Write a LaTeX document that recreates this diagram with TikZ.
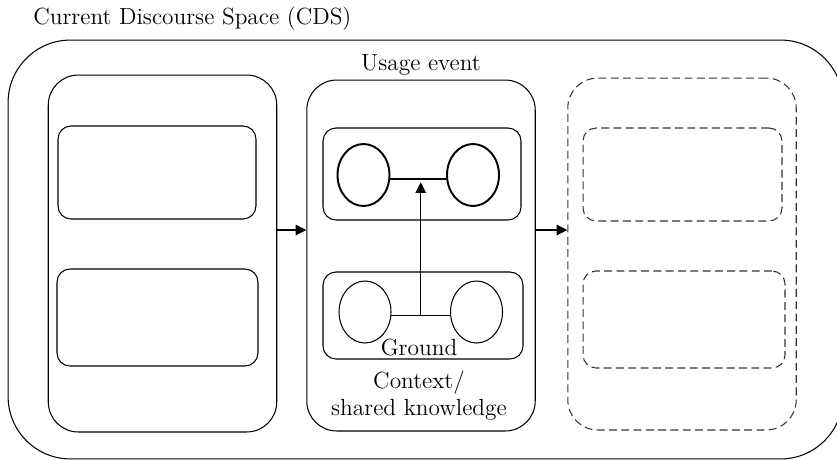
\documentclass[tikz,border=0pt]{standalone}
\usepackage{tikz}
\usetikzlibrary{positioning, shapes.geometric, arrows.meta}

\begin{document}
\begin{tikzpicture}[x=0.02cm, y=-0.02cm, % one unit is one pixel of the grid, y runs downwards
  >={Triangle[length=6pt, width=6pt]}, % solid triangular heads
  font=\fontsize{13.3}{15.5}\selectfont,
  every node/.style={inner sep=0pt},
  column/.style={draw, line width=0.6pt, rounded corners=0.6cm, minimum width=4.57cm, minimum height=7.04cm},
  slot/.style={draw, line width=0.6pt, rounded corners=0.26cm, minimum width=4cm, minimum height=1.9cm},
  ghost/.style={dash pattern=on 4.5pt off 2.5pt, draw=black!80}, % events still to come
  entity/.style={ellipse, draw, line width=0.6pt, minimum width=1.04cm, minimum height=1.24cm},
]
    \path[use as bounding box, clip] (0,0) rectangle (837,460);

    \node[draw, line width=0.6pt, rounded corners=1.25cm, minimum width=16.70cm, minimum height=8.38cm] (cds) at (425.5,249.5) {};
    \node[anchor=west] (cdslabel) at (33,19) {Current Discourse Space (CDS)};

    % previous usage event
    \node[column, minimum height=7.14cm] (prev) at (162.5,253.5) {};
    \node[slot, minimum width=3.96cm, minimum height=1.86cm] (prevtop) at (157,172.5) {};
    \node[slot, minimum width=4.02cm, minimum height=1.94cm] (prevbot) at (157.5,317.5) {};

    % current usage event
    \node[column, minimum height=7.02cm] (now) at (421,255.5) {};
    \node (nowlabel) at (421,65) {Usage event};
    \node[slot, minimum width=3.96cm, minimum height=1.84cm] (onstage) at (422,174) {};
    \node[slot, minimum width=4cm, minimum height=1.74cm] (ground) at (423,315.5) {};
    \node[entity, line width=1.1pt] (s) at (363.5,175) {};
    \node[entity, line width=1.1pt] (h) at (473,175) {};
    \node[entity] (gs) at (365,312) {};
    \node[entity] (gh) at (476.5,312) {};
    \node (groundlabel) at (419,348) {Ground};
    \node[align=center] (context) at (419,396) {Context/\\shared knowledge};

    % next usage event
    \node[column, ghost] (next) at (682,254) {};
    \node[slot, ghost, minimum width=3.98cm, minimum height=1.86cm] (nexttop) at (682.5,174.5) {};
    \node[slot, ghost, minimum width=4.04cm, minimum height=1.94cm] (nextbot) at (684,319.5) {};

    \draw[line width=1.1pt] (s.-8) -- (h.-172) coordinate[midway] (link);
    \draw[line width=0.6pt] (gs.-8) -- (gh.-172) coordinate[midway] (base);
    \draw[->, line width=0.6pt, shorten >=2pt] (base) -- (base |- link);

    \coordinate (flow) at (0,230);
    \draw[->, line width=0.6pt] (prev.east |- flow) -- (now.west |- flow);
    \draw[->, line width=0.6pt] (now.east |- flow) -- (next.west |- flow);
\end{tikzpicture}
\end{document}
